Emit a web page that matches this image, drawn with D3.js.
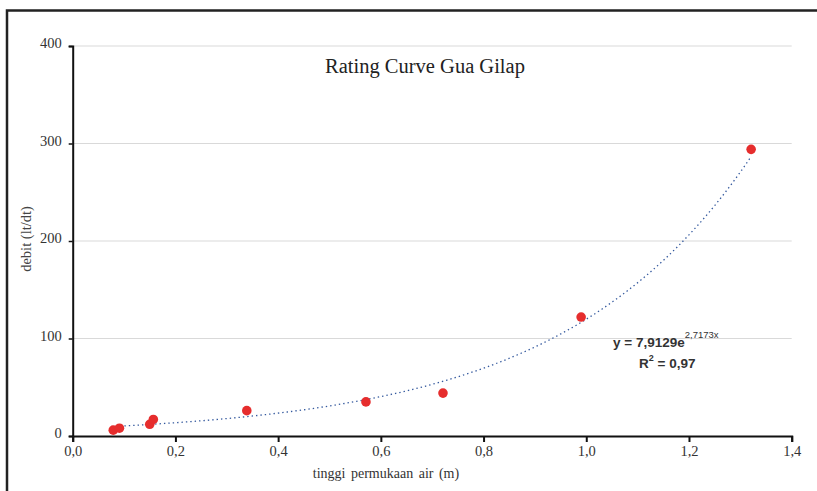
<!DOCTYPE html>
<html><head><meta charset="utf-8">
<script src="https://cdn.jsdelivr.net/npm/d3@7"></script>
<style>body{margin:0;background:#fff;}svg{display:block;}</style>
</head><body>
<svg id="c" width="817" height="491"></svg>
<script>
const xValues = [0.079, 0.091, 0.150, 0.157, 0.339, 0.571, 0.721, 0.990, 1.321];
const yValues = [6, 8, 12, 17, 26, 35, 44, 122, 294];
const xTicks = [0, 0.2, 0.4, 0.6, 0.8, 1.0, 1.2, 1.4];
const yTicks = [0, 100, 200, 300, 400];
const trendA = 7.9129, trendB = 2.7173;
const trendRange = [0.075, 1.321];

const svg = d3.select("#c");
const x = d3.scaleLinear().domain([0, 1.4]).range([72.7, 791.7]);
const y = d3.scaleLinear().domain([0, 400]).range([436, 46]);
const serif = "'Liberation Serif','Times New Roman',serif";
const fmt = d => d3.format(".1f")(d).replace(".", ",");

// outer frame
svg.append("rect").attr("x",7).attr("y",10.5).attr("width",900).attr("height",600)
  .attr("fill","none").attr("stroke","#222").attr("stroke-width",2.5);

// gridlines
svg.append("g").selectAll("line").data(yTicks.filter(d=>d>0)).join("line")
  .attr("x1", x(0)).attr("x2", x(1.4)).attr("y1", d=>y(d)).attr("y2", d=>y(d))
  .attr("stroke","#d9d9d9").attr("stroke-width",1);

// trendline
const tPts = d3.range(0, 121).map(i => {
  const xv = trendRange[0] + (trendRange[1]-trendRange[0])*i/120;
  return [xv, trendA*Math.exp(trendB*xv)];
});
svg.append("path").datum(tPts)
  .attr("d", d3.line().x(d=>x(d[0])).y(d=>y(d[1])))
  .attr("fill","none").attr("stroke","#34599e").attr("stroke-width",1.3)
  .attr("stroke-dasharray","1.4,3");

// x axis
const xa = svg.append("g").attr("transform",`translate(0,${y(0)})`)
  .call(d3.axisBottom(x).tickValues(xTicks).tickFormat(fmt).tickSize(6).tickPadding(4));
xa.select(".domain").attr("stroke","#111").attr("stroke-width",2);
xa.selectAll(".tick line").attr("stroke","#111").attr("stroke-width",2);
xa.selectAll("text").attr("font-family",serif).attr("font-size",14.5).attr("fill","#333");

// y axis
const ya = svg.append("g").attr("transform",`translate(${x(0)},0)`)
  .call(d3.axisLeft(y).tickValues(yTicks).tickSize(4).tickPadding(7));
ya.select(".domain").attr("stroke","#111").attr("stroke-width",2);
ya.selectAll(".tick line").attr("stroke","#111").attr("stroke-width",1.5);
ya.selectAll("text").attr("font-family",serif).attr("font-size",14.5).attr("fill","#333").attr("dy","0.12em");

// points
svg.append("g").selectAll("circle").data(xValues.map((d,i)=>[d,yValues[i]])).join("circle")
  .attr("cx", d=>x(d[0])).attr("cy", d=>y(d[1])).attr("r",4.8).attr("fill","#e62d2d");

// title
svg.append("text").attr("x",425).attr("y",73).attr("text-anchor","middle")
  .attr("font-family",serif).attr("font-size",20.5).attr("fill","#222").text("Rating Curve Gua Gilap");

// axis titles
svg.append("text").attr("x",386).attr("y",478).attr("text-anchor","middle")
  .attr("font-family",serif).attr("font-size",14).attr("fill","#333").attr("word-spacing","2px")
  .text("tinggi permukaan air (m)");
svg.append("text").attr("transform","translate(31,239) rotate(-90)").attr("text-anchor","middle")
  .attr("font-family",serif).attr("font-size",14.5).attr("fill","#444")
  .text("debit (lt/dt)");

// equation
const sans = "'Liberation Sans',Arial,sans-serif";
const eq = svg.append("text").attr("x",613).attr("y",347).attr("font-family",sans)
  .attr("font-size",13.5).attr("font-weight","bold").attr("fill","#333");
eq.append("tspan").text("y = 7,9129e");
eq.append("tspan").attr("dy",-9).attr("font-size",9.5).attr("font-weight","normal").text("2,7173x");
const r2 = svg.append("text").attr("x",639).attr("y",368).attr("font-family",sans)
  .attr("font-size",13.5).attr("font-weight","bold").attr("fill","#333");
r2.append("tspan").text("R");
r2.append("tspan").attr("dy",-7).attr("font-size",9).text("2");
r2.append("tspan").attr("dy",7).text(" = 0,97");
</script>
</body></html>
